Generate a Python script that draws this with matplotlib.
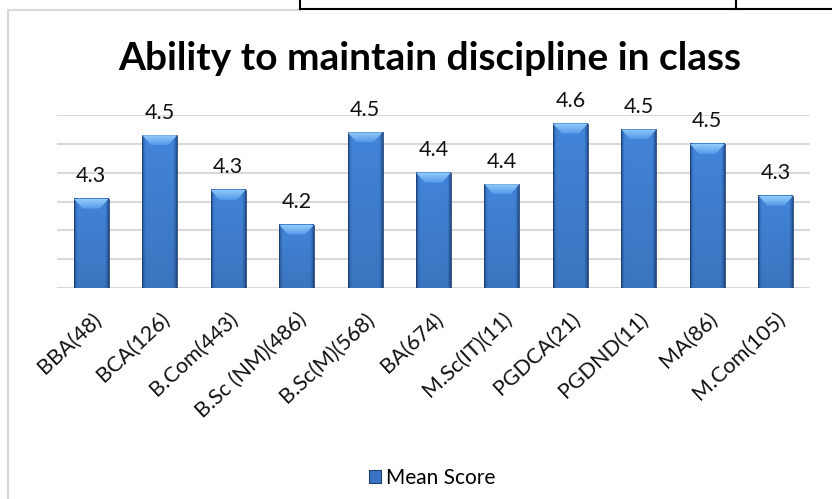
import numpy as np
import matplotlib
matplotlib.use("Agg")
import matplotlib.pyplot as plt
from matplotlib.lines import Line2D
from matplotlib.patches import Polygon, Patch

# data
programmes = ["BBA(48)", "BCA(126)", "B.Com(443)", "B.Sc (NM)(486)", "B.Sc(M)(568)",
              "BA(674)", "M.Sc(IT)(11)", "PGDCA(21)", "PGDND(11)", "MA(86)", "M.Com(105)"]
mean_score = [4.31, 4.53, 4.34, 4.22, 4.54, 4.40, 4.36, 4.57, 4.55, 4.50, 4.32]
y_min, y_max, y_step = 4.0, 4.6, 0.1

title = "Ability to maintain discipline in class"
legend_label = "Mean Score"

W, H = 832, 499
plt.rcParams['font.family'] = ['Lato', 'DejaVu Sans']

fig = plt.figure(figsize=(W / 100, H / 100), dpi=100)
ax = fig.add_axes([57 / W, 1 - 288 / H, (810 - 57) / W, (288 - 115) / H])

x = np.arange(len(programmes))
bars = ax.bar(x, mean_score, width=0.51, bottom=0, color='none',
              edgecolor='#1c3f70', linewidth=0.6, zorder=3)

# bevelled gradient fill like Excel
nx, ny = 60, 60
u = np.linspace(0, 1, nx)
prof = np.clip(np.minimum(u, 1 - u) / 0.10, 0, 1) ** 0.7
dark = np.array([0.13, 0.30, 0.56])
light = np.array([0.26, 0.52, 0.85])
row = dark[None, :] + (light - dark)[None, :] * prof[:, None]
grad = np.repeat(row[None, :, :], ny, axis=0)
vshade = np.linspace(1.0, 0.88, ny)[:, None, None]
grad = np.clip(grad * vshade, 0, 1)

bev_top = np.array([0.58, 0.80, 0.98])
bev_bot = np.array([0.33, 0.60, 0.92])
t = np.linspace(0, 1, 20)[:, None]
bev = (bev_top * (1 - t) + bev_bot * t)[:, None, :].repeat(10, axis=1)

ax.set_xlim(-0.5, len(programmes) - 0.5)
ax.set_ylim(y_min, y_max)

for b in bars:
    x0, w, h = b.get_x(), b.get_width(), b.get_height()
    ax.imshow(grad, extent=(x0, x0 + w, y_min, h), aspect='auto',
              origin='upper', zorder=2.5, interpolation='bilinear')
    # top bevel trapezoid (size in pixels converted to data)
    inv = ax.transData.inverted()
    p_top = ax.transData.transform((x0, h))
    inset = inv.transform((p_top[0] + 9, p_top[1] - 10))
    dx = inset[0] - x0
    dy = h - inset[1]
    poly = Polygon([(x0, h), (x0 + w, h), (x0 + w - dx, h - dy), (x0 + dx, h - dy)],
                   closed=True, facecolor='none', edgecolor='none', zorder=3.2)
    ax.add_patch(poly)
    im = ax.imshow(bev, extent=(x0, x0 + w, h - dy, h), aspect='auto',
                   origin='upper', zorder=3.1, interpolation='bilinear')
    im.set_clip_path(poly)
    ax.annotate(f"{h:.1f}", (x0 + w / 2, h), xytext=(0, 9), textcoords='offset points',
                ha='center', va='bottom', fontsize=15.5, color='#111111', annotation_clip=False)

ax.set_xlim(-0.5, len(programmes) - 0.5)
ax.set_ylim(y_min, y_max)
ax.set_yticks(np.arange(y_min, y_max + 1e-9, y_step))
ax.yaxis.grid(True, color='#d9d9d9', linewidth=1.5, zorder=0)
ax.set_axisbelow(True)
ax.tick_params(axis='y', left=False, labelleft=False)
ax.tick_params(axis='x', length=0, pad=15)
ax.set_xticks(x)
ax.set_xticklabels(programmes, rotation=43, ha='right', rotation_mode='anchor',
                   fontsize=15.5, color='#111111')
for s in ax.spines.values():
    s.set_visible(False)

fig.text(430 / W, 1 - 58 / H, title, ha='center', va='center', fontsize=28,
         fontweight='bold', color='black')

handle = Patch(facecolor='#3a74c4', edgecolor='#1c3f70', linewidth=0.8)
fig.legend([handle], [legend_label], loc='center', bbox_to_anchor=(432 / W, 1 - 478 / H),
           frameon=False, fontsize=15, handlelength=0.6, handleheight=0.6,
           handletextpad=0.2)

# chart border and surrounding table lines
def pline(xs, ys, color, lw):
    fig.add_artist(Line2D([v / W for v in xs], [1 - v / H for v in ys],
                          color=color, linewidth=lw, transform=fig.transFigure))

pline([8, 300], [10, 10], '#d9d9d9', 1.5)
pline([8, 8], [10, H], '#d9d9d9', 1.5)
pline([300, W], [9, 9], 'black', 1.5)
pline([300, 300], [0, 9], 'black', 1.5)
pline([736, 736], [0, 9], 'black', 1.5)

fig.savefig("out.png", dpi=100)
